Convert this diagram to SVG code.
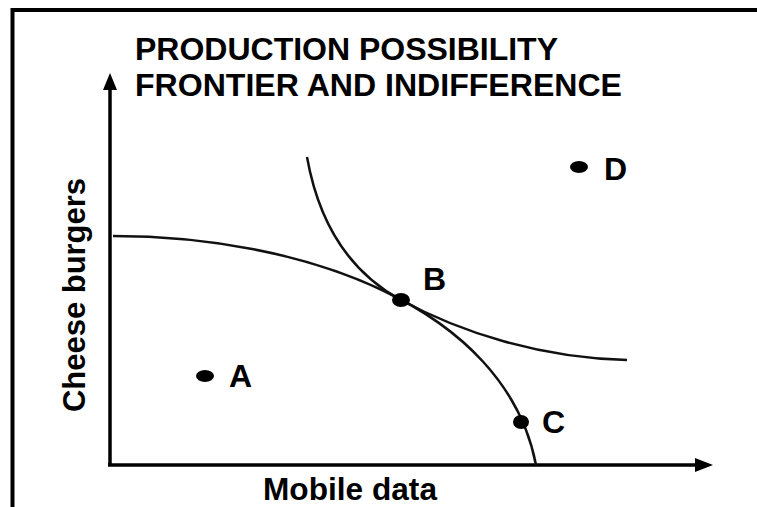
<svg xmlns="http://www.w3.org/2000/svg" width="757" height="507" viewBox="0 0 757 507">
<style>
.t{font-family:"Liberation Sans",Arial,sans-serif;font-weight:bold;fill:#000;font-size:32px}
.ax{stroke:#000;stroke-width:3.5;fill:none}
.cv{stroke:#111;stroke-width:2.5;fill:none}
.dot{fill:#000}
</style>
<rect width="757" height="507" fill="#fff"/>
<g id="frame">
<path d="M12.5,507 V10 H757" stroke="#000" stroke-width="4" fill="none"/>
</g>
<g id="title">
<text class="t" x="135" y="60" textLength="423" lengthAdjust="spacingAndGlyphs">PRODUCTION POSSIBILITY</text>
<text class="t" x="135" y="96" textLength="487" lengthAdjust="spacingAndGlyphs">FRONTIER AND INDIFFERENCE</text>
</g>
<g id="connectors">
<path class="ax" d="M110,466 V90"/>
<path d="M110,73 L117,90 L103,90 z" fill="#000"/>
<path class="ax" d="M108,465 H696"/>
<path d="M713,465 L695,458 L695,472 z" fill="#000"/>
<path id="ppf" class="cv" d="M113,236 C300,236 505,305 536,465"/>
<path id="ic" class="cv" d="M307,157 C320,230 355,275 401,300 C460,332 540,358 627,360"/>
</g>
<g id="axis-labels">
<text class="t" x="263" y="500" textLength="174" lengthAdjust="spacingAndGlyphs">Mobile data</text>
<text class="t" transform="translate(85,412) rotate(-90)" textLength="234" lengthAdjust="spacingAndGlyphs">Cheese burgers</text>
</g>
<g id="pointA"><ellipse class="dot" cx="205" cy="376" rx="9" ry="6"/><text class="t" x="229" y="387">A</text></g>
<g id="pointB"><ellipse class="dot" cx="401" cy="300" rx="9" ry="7"/><text class="t" x="423" y="290">B</text></g>
<g id="pointC"><ellipse class="dot" cx="521" cy="422" rx="8" ry="7"/><text class="t" x="542" y="433">C</text></g>
<g id="pointD"><ellipse class="dot" cx="579" cy="167" rx="9" ry="6"/><text class="t" x="604" y="180">D</text></g>
</svg>
